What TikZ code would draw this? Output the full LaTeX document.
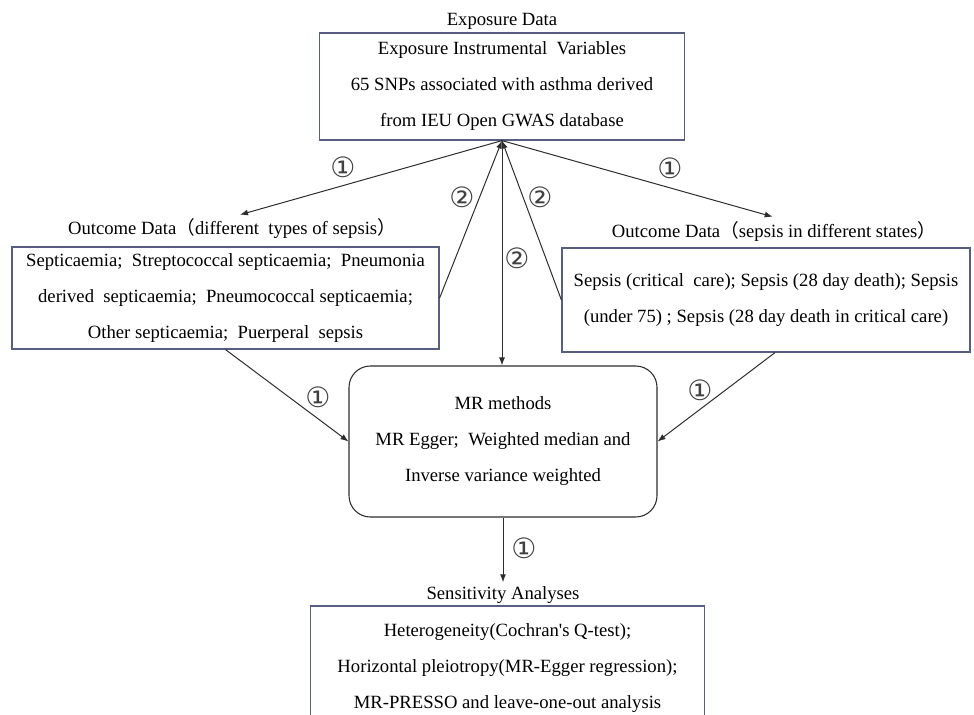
\documentclass[tikz,border=0pt]{standalone}
\usepackage{fontspec}
\setmainfont{Liberation Serif}
\newfontfamily\plainserif{Liberation Serif}
\newfontfamily\cjkfont{Noto Sans CJK SC}
\newfontfamily\circfont{DejaVu Sans}
\usetikzlibrary{arrows.meta}
\definecolor{boxblue}{RGB}{88,94,130}
\definecolor{linegray}{RGB}{45,45,45}
\tikzset{
  databox/.style={draw=boxblue, line width=0.9pt, inner sep=0pt, align=center,
    font=\fontsize{14}{27}\selectfont},
  methodbox/.style={draw=linegray, line width=0.8pt, rounded corners=16pt, inner sep=0pt,
    align=center, font=\fontsize{14}{27}\selectfont},
  heading/.style={font=\fontsize{14}{17}\selectfont, inner sep=3pt},
  flow/.style={draw=linegray, line width=0.75pt, -{Latex[length=6pt,width=4.5pt]}},
  stepnum/.style={font=\circfont\fontsize{21}{21}\selectfont, text=black!75, inner sep=0pt},
}

\begin{document}
\begin{tikzpicture}[x=0.75pt,y=-0.75pt]
        \useasboundingbox (0,0) rectangle (974,714);
        \clip (0,0) rectangle (974,714);

        \node[heading] (expTitle) at (502,21) {Exposure Data};
        \node[databox, minimum width=273.75pt, minimum height=80.25pt] (expBox) at (502,86.5)
            {Exposure Instrumental\ \ Variables\\65 SNPs associated with asthma derived\\from IEU Open GWAS database};

        \node[heading] (leftTitle) at (232,229) {Outcome Data{\cjkfont （}different\ \ types of sepsis{\cjkfont ）}};
        \node[databox, minimum width=320.25pt, minimum height=76.5pt] (leftBox) at (225.5,298)
            {Septicaemia;\ \ Streptococcal septicaemia;\ \ Pneumonia\\derived\ \ septicaemia;\ \ Pneumococcal septicaemia;\\Other septicaemia;\ \ Puerperal\ \ sepsis};

        \node[heading] (rightTitle) at (774,231) {Outcome Data{\cjkfont （}sepsis in different states{\cjkfont ）}};
        \node[databox, minimum width=306pt, minimum height=78pt] (rightBox) at (766,300)
            {Sepsis (critical\ \ care); Sepsis (28 day death); Sepsis\\(under 75) ; Sepsis (28 day death in critical care)};

        \node[methodbox, minimum width=231pt, minimum height=113.25pt] (mrBox) at (503,441.5)
            {MR methods\\MR Egger;\ \ Weighted median and\\Inverse variance weighted};

        \node[heading] (sensTitle) at (503,595) {Sensitivity Analyses};
        \node[databox, minimum width=296pt, minimum height=93pt] (sensBox) at (507.5,668)
            {Heterogeneity(Cochran{\plainserif 's} Q-test);\\Horizontal pleiotropy(MR-Egger regression);\\MR-PRESSO and leave-one-out analysis};

        % arrows
        \draw[flow] (expBox.south) -- ([xshift=6pt]leftTitle.north);
        \draw[flow] (expBox.south) -- ([xshift=-1pt]rightTitle.north);
        \draw[flow] (leftBox.east) -- (expBox.south);
        \draw[flow] (rightBox.west) -- (expBox.south);
        \draw[flow] (expBox.south) -- (expBox.south |- mrBox.north);
        \draw[flow] (leftBox.south) -- (mrBox.west);
        \draw[flow] ([xshift=6.75pt]rightBox.south) -- (mrBox.east);
        \draw[flow] (mrBox.south) -- (sensTitle.north);

        % step numbers
        \node[stepnum] (stepA) at (343,167) {①};
        \node[stepnum] (stepB) at (670,168) {①};
        \node[stepnum] (stepC) at (462,197) {②};
        \node[stepnum] (stepD) at (540,197) {②};
        \node[stepnum] (stepE) at (517,258) {②};
        \node[stepnum] (stepF) at (318,397) {①};
        \node[stepnum] (stepG) at (700,390) {①};
        \node[stepnum] (stepH) at (524,548) {①};
    \end{tikzpicture}
\end{document}
